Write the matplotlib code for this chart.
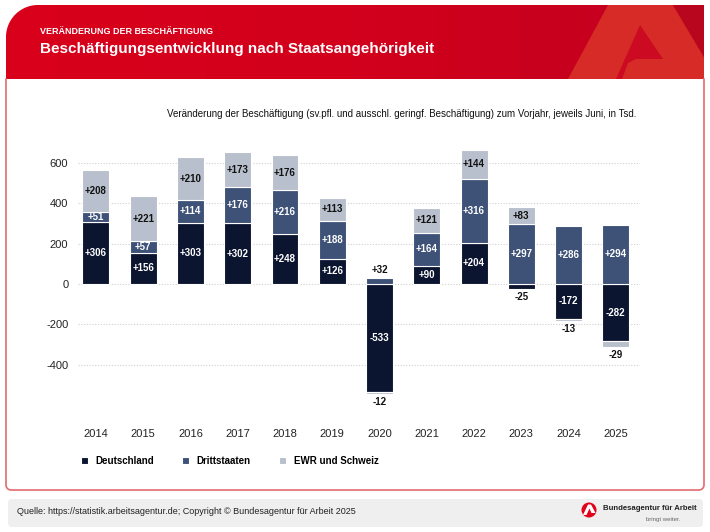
import numpy as np
import matplotlib
matplotlib.use("Agg")
import matplotlib.pyplot as plt
from matplotlib.patches import Polygon, FancyBboxPatch, Circle

plt.rcParams['font.family'] = ['Liberation Sans', 'DejaVu Sans']
plt.rcParams['axes.unicode_minus'] = False

# Daten (Tsd., Veränderung zum Vorjahr, jeweils Juni)
jahre = ['2014', '2015', '2016', '2017', '2018', '2019', '2020', '2021', '2022', '2023', '2024', '2025']
deutschland = [306, 156, 303, 302, 248, 126, -533, 90, 204, -25, -172, -282]
drittstaaten = [51, 57, 114, 176, 216, 188, 32, 164, 316, 297, 286, 294]
ewr_schweiz = [208, 221, 210, 173, 176, 113, -12, 121, 144, 83, -13, -29]

serien = ['Deutschland', 'Drittstaaten', 'EWR und Schweiz']
farben = ['#0b1530', '#3e5278', '#b9c0cd']
text_farben = ['white', 'white', '#111111']

W, H = 710, 532
fig = plt.figure(figsize=(W / 100, H / 100), dpi=100)
fig.patch.set_facecolor('white')

# Hintergrund-Achse in Pixelkoordinaten (Rahmen, Kopf, Fußzeile)
bg = fig.add_axes([0, 0, 1, 1])
bg.set_xlim(0, W)
bg.set_ylim(H, 0)
bg.axis('off')

# Kopfbereich mit abgerundeter Ecke links oben
r = 32
L, R, T, B = 6, 704, 5, 79
ang = np.linspace(np.pi, 1.5 * np.pi, 30)
arc = np.column_stack([L + r + r * np.cos(ang), T + r + r * np.sin(ang)])
kopf = np.vstack([[L, B], arc, [R, T], [R, B]])
kopf_patch = Polygon(kopf, closed=True, facecolor='none', edgecolor='none')
bg.add_patch(kopf_patch)
grad = np.linspace(0, 1, 256).reshape(1, -1)
cmap = matplotlib.colors.LinearSegmentedColormap.from_list('kopf', ['#d9001b', '#d2001c', '#c1001f'])
img = bg.imshow(grad, extent=[L, R, B, T], cmap=cmap, aspect='auto', zorder=1)
img.set_clip_path(kopf_patch)

# A-Logo im Kopf
bg.add_patch(Polygon([[568, B], [608, T], [673, T], [704, 57], [704, B]], closed=True,
                     facecolor='#d62b27', edgecolor='none', zorder=2))
bg.add_patch(Polygon([[640, 25], [663, 59], [636, 59], [628, 63], [622, B], [616, B]], closed=True,
                     facecolor='#cc0a22', edgecolor='none', zorder=3))
bg.add_patch(Polygon([[673, T], [704, T], [704, 57]], closed=True,
                     facecolor='#b8061f', edgecolor='none', zorder=2))

bg.text(40, 31, 'VERÄNDERUNG DER BESCHÄFTIGUNG', color='white', fontsize=6.5, fontweight='bold',
        va='center', ha='left', zorder=5)
bg.text(40, 49, 'Beschäftigungsentwicklung nach Staatsangehörigkeit', color='white', fontsize=11,
        fontweight='bold', va='center', ha='left', zorder=5)

# Rahmen der Karte
rahmen_y = 490
rr = 5
ang2 = np.linspace(np.pi, 0.5 * np.pi, 15)
links_unten = np.column_stack([L + rr + rr * np.cos(ang2), rahmen_y - rr + rr * np.sin(ang2)])
ang3 = np.linspace(0.5 * np.pi, 0, 15)
rechts_unten = np.column_stack([R - rr + rr * np.cos(ang3), rahmen_y - rr + rr * np.sin(ang3)])
rahmen = np.vstack([[L, B], links_unten, rechts_unten, [R, B]])
bg.plot(rahmen[:, 0], rahmen[:, 1], color='#e36a6e', lw=1.2, zorder=4)

# Fußzeile
bg.add_patch(FancyBboxPatch((8, 499), 695, 28, boxstyle='round,pad=0,rounding_size=4',
                            facecolor='#efefef', edgecolor='none', zorder=1))
bg.text(17, 512, 'Quelle: https://statistik.arbeitsagentur.de; Copyright © Bundesagentur für Arbeit 2025',
        fontsize=6.5, color='#222222', va='center', ha='left')
bg.add_patch(Circle((589, 510), 7.5, facecolor='#e2001a', edgecolor='none', zorder=3))
bg.add_patch(Polygon([[583, 515], [588, 504.5], [591, 504.5], [595.5, 513], [591.5, 513],
                      [589.5, 508.5], [586.5, 515]], closed=True, facecolor='white',
                     edgecolor='none', zorder=4))
bg.text(603, 508, 'Bundesagentur für Arbeit', fontsize=5.6, fontweight='bold', color='#222222',
        va='center', ha='left')
bg.text(680, 519, 'bringt weiter.', fontsize=4.3, color='#666666', va='center', ha='right')

# Untertitel
bg.text(636, 114, 'Veränderung der Beschäftigung (sv.pfl. und ausschl. geringf. Beschäftigung) '
        'zum Vorjahr, jeweils Juni, in Tsd.', fontsize=7, color='#111111', va='center', ha='right')

# Diagramm
ax = fig.add_axes([78 / W, 1 - 401.2 / H, (640 - 78) / W, (401.2 - 142.6) / H])
ax.set_facecolor('none')
x = np.arange(len(jahre))
breite = 0.57

pos_basis = np.zeros(len(jahre))
neg_basis = np.zeros(len(jahre))
for k, werte in enumerate([deutschland, drittstaaten, ewr_schweiz]):
    werte = np.array(werte, dtype=float)
    basis = np.where(werte >= 0, pos_basis, neg_basis)
    ax.bar(x, werte, breite, bottom=basis, color=farben[k], edgecolor='white', linewidth=0.8,
           label=serien[k], zorder=3)
    for i, v in enumerate(werte):
        txt = f'{int(v):+d}'
        if abs(v) < 40:
            if v >= 0:
                ax.text(x[i], basis[i] + v + 14, txt, ha='center', va='bottom', fontsize=7,
                        fontweight='bold', color='#111111', zorder=4)
            else:
                ax.text(x[i], basis[i] + v - 14, txt, ha='center', va='top', fontsize=7,
                        fontweight='bold', color='#111111', zorder=4)
        else:
            ax.text(x[i], basis[i] + v / 2, txt, ha='center', va='center', fontsize=7,
                    fontweight='bold', color=text_farben[k], zorder=4)
    pos_basis = pos_basis + np.where(werte >= 0, werte, 0)
    neg_basis = neg_basis + np.where(werte < 0, werte, 0)

ax.set_xlim(-0.38, 11.51)
ax.set_ylim(-580, 700)
ax.set_yticks([-400, -200, 0, 200, 400, 600])
ax.set_xticks(x)
ax.set_xticklabels(jahre)
ax.tick_params(axis='x', length=0, pad=20, labelsize=8, labelcolor='#222222')
ax.tick_params(axis='y', length=0, pad=7, labelsize=8, labelcolor='#222222')
ax.grid(axis='y', linestyle=(0, (1, 1.5)), color='#cfcfcf', linewidth=0.8, zorder=0)
for s in ax.spines.values():
    s.set_visible(False)

leg = ax.legend(loc='center left', bbox_to_anchor=(72 / W, 1 - 461 / H), bbox_transform=fig.transFigure,
                ncol=3, frameon=False, handlelength=0.75, handleheight=0.75, handletextpad=0.75,
                columnspacing=2.9, prop={'weight': 'bold', 'size': 7})

fig.savefig('out.png', dpi=100)
